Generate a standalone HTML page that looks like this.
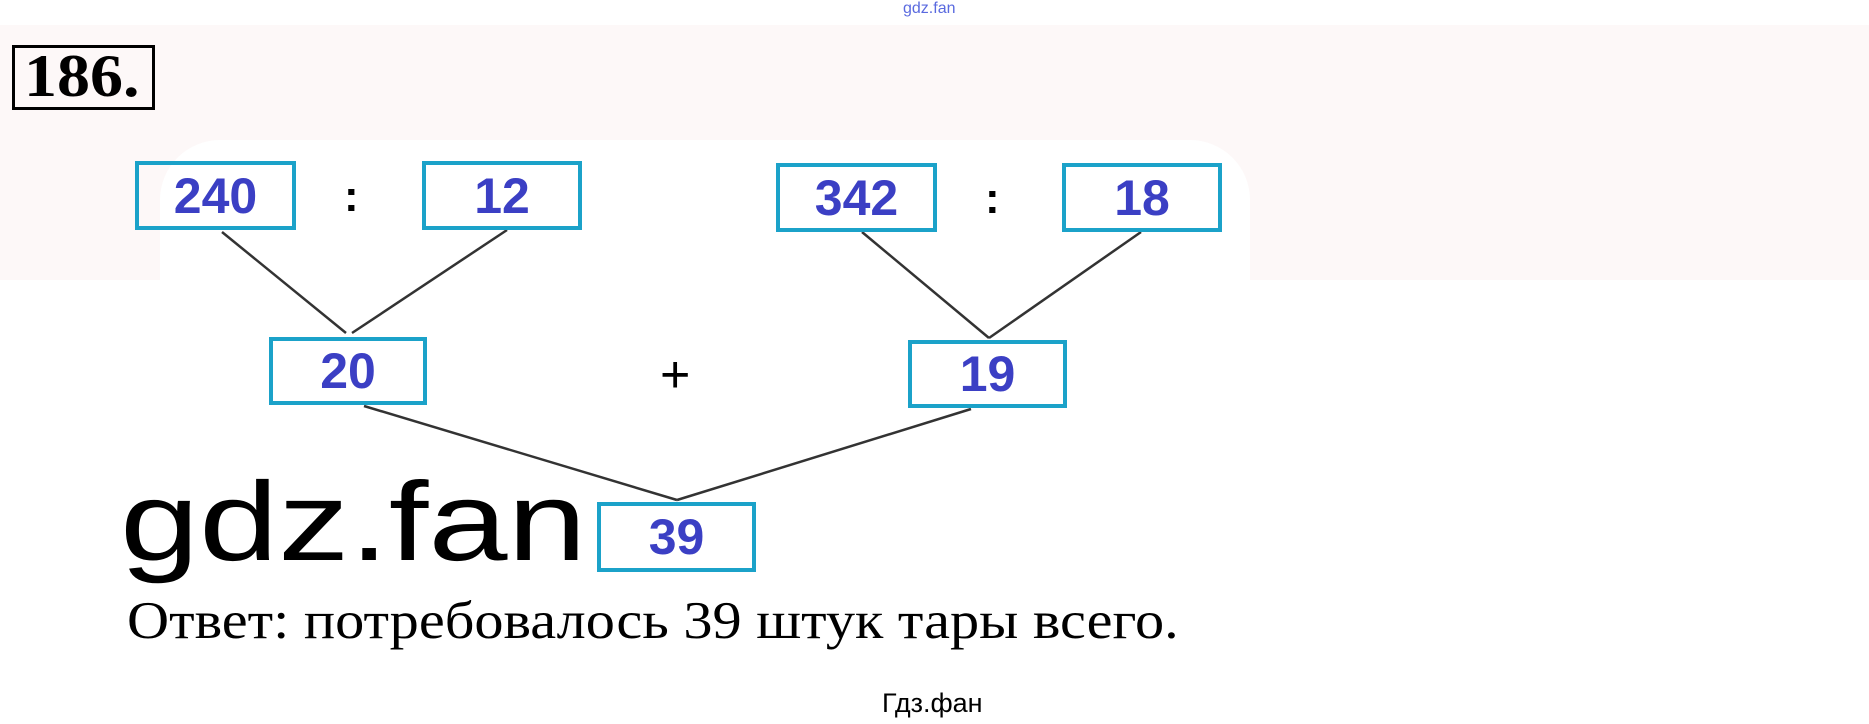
<!DOCTYPE html>
<html><head><meta charset="utf-8"><style>
body{margin:0;width:1869px;height:724px;background:#fff;position:relative;overflow:hidden;font-family:"Liberation Sans",sans-serif}
.b{position:absolute;border:4px solid #1ba2c9;box-sizing:border-box;color:#3b3fc4;font-weight:bold;font-size:50px;display:flex;align-items:center;justify-content:center}
.t{position:absolute;white-space:nowrap}
</style></head><body>
<div style="position:absolute;left:0;top:25px;width:1869px;height:255px;background:#fdf8f8"></div>
<div style="position:absolute;left:160px;top:140px;width:1090px;height:440px;background:#fff;border-radius:60px"></div>
<div class="t" style="left:903px;top:0;font-size:16px;color:#5a6adf">gdz.fan</div>
<div style="position:absolute;left:12px;top:45px;width:143px;height:65px;border:3px solid #000;box-sizing:border-box"></div>
<div class="t" style="left:24px;top:46px;font-family:'Liberation Serif',serif;font-weight:bold;font-size:60px;line-height:1;transform:scaleX(1.1);transform-origin:left">186.</div>
<svg style="position:absolute;left:0;top:0" width="1869" height="724">
<g stroke="#333" stroke-width="2.5" fill="none">
<line x1="222" y1="232" x2="346" y2="333"/><line x1="507" y1="230" x2="352" y2="333"/>
<line x1="862" y1="232" x2="989" y2="338"/><line x1="1141" y1="232" x2="989" y2="338"/>
<line x1="364" y1="406" x2="677" y2="500"/><line x1="971" y1="409" x2="677" y2="500"/>
</g></svg>
<div class="b" style="left:135px;top:161px;width:161px;height:69px">240</div>
<div class="b" style="left:422px;top:161px;width:160px;height:69px">12</div>
<div class="b" style="left:776px;top:163px;width:161px;height:69px">342</div>
<div class="b" style="left:1062px;top:163px;width:160px;height:69px">18</div>
<div class="b" style="left:269px;top:337px;width:158px;height:68px">20</div>
<div class="b" style="left:908px;top:340px;width:159px;height:68px">19</div>
<div class="b" style="left:597px;top:502px;width:159px;height:70px">39</div>
<div class="t" style="left:344px;top:172px;font-size:44px;font-weight:bold">:</div>
<div class="t" style="left:985px;top:174px;font-size:44px;font-weight:bold">:</div>
<div class="t" style="left:660px;top:345px;font-size:52px">+</div>
<div class="t" style="left:120px;top:466px;font-size:112px;line-height:1;transform:scaleX(1.27);transform-origin:left">gdz.fan</div>
<div class="t" style="left:127px;top:595px;font-family:'Liberation Serif',serif;font-size:53px;line-height:1;transform:scaleX(1.1);transform-origin:left">Ответ: потребовалось 39 штук тары всего.</div>
<div class="t" style="left:882px;top:688px;font-size:27px">Гдз.фан</div>
</body></html>
